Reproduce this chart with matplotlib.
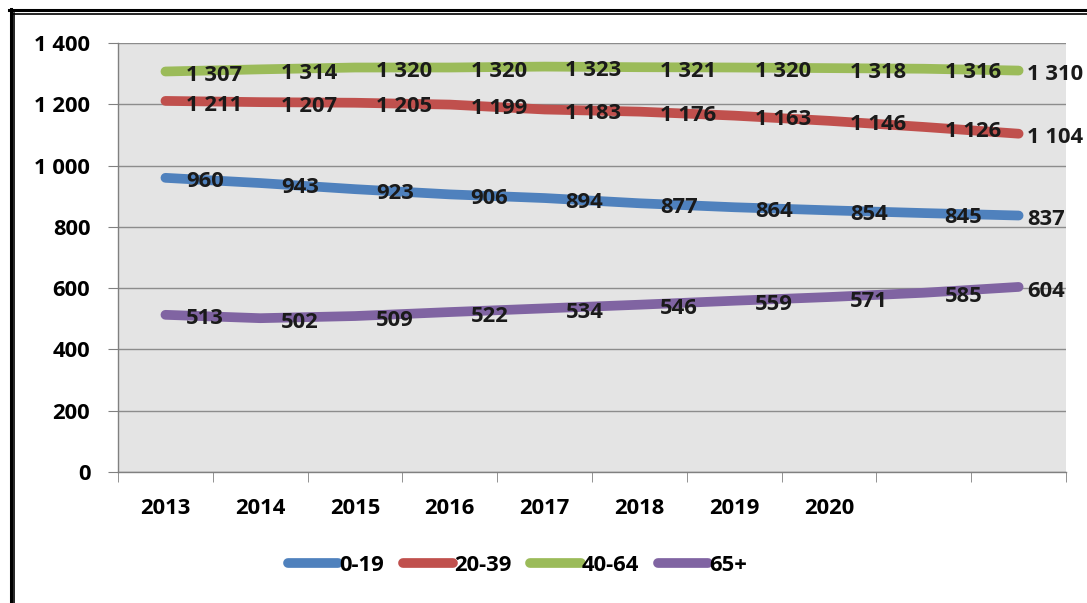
import matplotlib
matplotlib.use("Agg")
from matplotlib import pyplot as plt
from matplotlib.lines import Line2D
import numpy as np

# Data
years = ['2013', '2014', '2015', '2016', '2017', '2018', '2019', '2020', '', '']
age_0_19 = [960, 943, 923, 906, 894, 877, 864, 854, 845, 837]
age_20_39 = [1211, 1207, 1205, 1199, 1183, 1176, 1163, 1146, 1126, 1104]
age_40_64 = [1307, 1314, 1320, 1320, 1323, 1321, 1320, 1318, 1316, 1310]
age_65 = [513, 502, 509, 522, 534, 546, 559, 571, 585, 604]
series_names = ['0-19', '20-39', '40-64', '65+']
y_ticks = [0, 200, 400, 600, 800, 1000, 1200, 1400]

colors = ['#4f81bd', '#c0504d', '#9bbb59', '#8064a2']

plt.rcParams['font.family'] = ['Open Sans', 'DejaVu Sans']
plt.rcParams['font.weight'] = 'bold'
FS = 15.8


def fmt(v):
    # space as thousands separator
    return f"{v:,}".replace(',', ' ')


fig = plt.figure(figsize=(10.87, 6.03), dpi=100)
ax = fig.add_axes([0.1086, 0.2172, 0.8721, 0.7115])
ax.set_facecolor('#e4e4e4')

x = np.arange(1, len(years) + 1)
all_series = [age_0_19, age_20_39, age_40_64, age_65]

for vals, name, col in zip(all_series, series_names, colors):
    ax.plot(x, vals, color=col, lw=7, solid_capstyle='round',
            solid_joinstyle='round', label=name, zorder=3)
    for i, (xi, v) in enumerate(zip(x, vals)):
        dx = 6 if i == len(vals) - 1 else 15
        ax.annotate(fmt(v), (xi, v), xytext=(dx, -3), textcoords='offset points',
                    ha='left', va='center', fontsize=FS, fontweight='bold',
                    color='#1a1a1a', zorder=4, annotation_clip=False)

ax.set_xlim(0.5, len(years) + 0.5)
ax.set_ylim(0, 1400)
ax.set_yticks(y_ticks)
ax.set_yticklabels([fmt(v) for v in y_ticks])
ax.set_xticks(x)
ax.set_xticklabels(years)
ax.set_xticks(np.arange(0.5, len(years) + 1), minor=True)

ax.tick_params(axis='x', which='major', length=0, pad=19, labelsize=FS)
ax.tick_params(axis='x', which='minor', length=7, color='#808080', direction='out')
ax.tick_params(axis='y', length=7, color='#808080', pad=13, labelsize=FS)

ax.grid(axis='y', color='#8c8c8c', lw=1)
ax.set_axisbelow(True)
for s in ['top', 'right']:
    ax.spines[s].set_visible(False)
for s in ['left', 'bottom']:
    ax.spines[s].set_color('#808080')
    ax.spines[s].set_linewidth(1)

fig.legend(loc='center', bbox_to_anchor=(0.476, 0.062), ncol=4, frameon=False,
           handlelength=2.3, handletextpad=0.05, columnspacing=0.85,
           prop={'size': FS, 'weight': 'bold'})

# double frame around the figure (top and left visible)
W, H = 1087, 603
fig.add_artist(Line2D([9 / W, 1], [1 - 10 / H, 1 - 10 / H], color='black', lw=2.2,
                      transform=fig.transFigure))
fig.add_artist(Line2D([13 / W, 1], [1 - 13.5 / H, 1 - 13.5 / H], color='black', lw=1.2,
                      transform=fig.transFigure))
fig.add_artist(Line2D([10.5 / W, 10.5 / W], [0, 1 - 9 / H], color='black', lw=2.2,
                      transform=fig.transFigure))
fig.add_artist(Line2D([14 / W, 14 / W], [0, 1 - 13 / H], color='black', lw=1.2,
                      transform=fig.transFigure))

fig.savefig('out.png', dpi=100)
